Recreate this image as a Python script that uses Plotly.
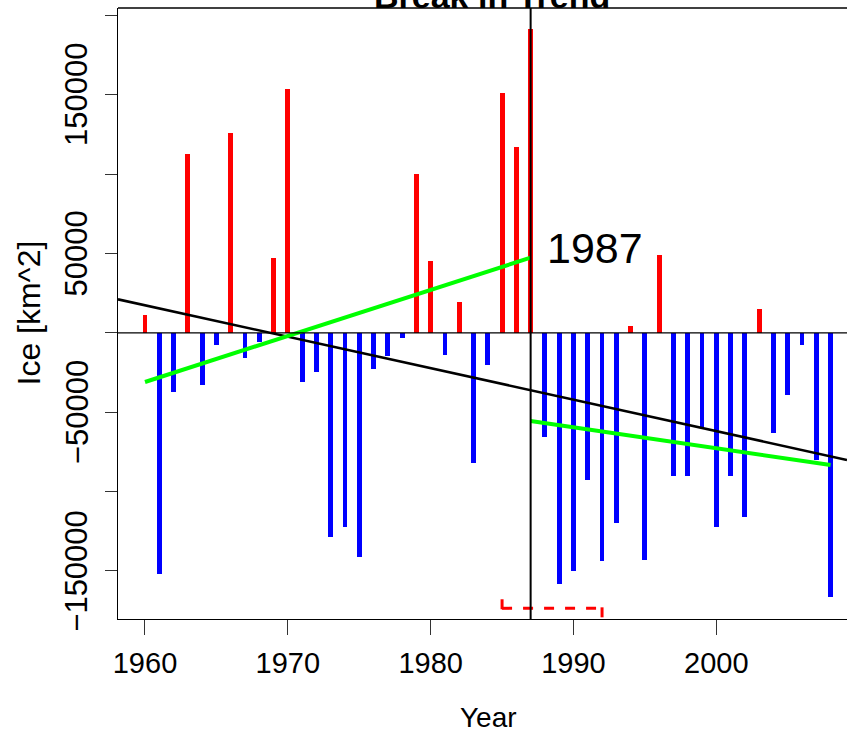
import plotly.graph_objects as go

# ---- data ----
years = list(range(1960, 2009))
ice = [
    11000, -152000, -37000, 113000, -33000, -7700, 126000, -16000, -5600, 47000,
    153500, -31000, -24700, -128700, -122600, -141500, -22800, -14400, -3400, 100000,
    45000, -13800, 19600, -82300, -20500, 151000, 117400, 191400, -65500, -158600,
    -150000, -92800, -143700, -120100, 4300, -143200, 49300, -90300, -90300, -60200,
    -122200, -90300, -115900, 15200, -63000, -39400, -7900, -80200, -166800,
]

break_year = 1987
ci_low, ci_high = 1985, 1992          # confidence interval of the break
ci_level = -173700                    # height at which the interval is drawn
ci_tick = 5700                        # half height of the end ticks

trend_intercept_1960 = 17400          # overall linear trend
trend_slope = -1985

seg1_x = [1960, 1987]
seg1_y = [-31000, 47400]
seg2_x = [1987, 2008]
seg2_y = [-55600, -83300]

x_ticks = [1960, 1970, 1980, 1990, 2000]
y_ticks = [-150000, -100000, -50000, 0, 50000, 100000, 150000, 200000]
y_labels = [-150000, -50000, 50000, 150000]

x_range = [1958.11, 2009.15]
y_range = [-180450, 204850]

FONT = "Liberation Sans, Arial, sans-serif"

fig = go.Figure()

pos_x = [y for y, v in zip(years, ice) if v >= 0]
pos_y = [v for v in ice if v >= 0]
neg_x = [y for y, v in zip(years, ice) if v < 0]
neg_y = [v for v in ice if v < 0]

fig.add_trace(go.Bar(x=pos_x, y=pos_y, width=0.34, marker=dict(color="#FF0000", line=dict(width=0)),
                     showlegend=False))
fig.add_trace(go.Bar(x=neg_x, y=neg_y, width=0.34, marker=dict(color="#0000FF", line=dict(width=0)),
                     showlegend=False))

# overall trend line
tx = x_range
ty = [trend_intercept_1960 + trend_slope * (x - 1960) for x in tx]
fig.add_trace(go.Scatter(x=tx, y=ty, mode="lines", line=dict(color="black", width=2.6),
                         showlegend=False))

# segmented fits
fig.add_trace(go.Scatter(x=seg1_x, y=seg1_y, mode="lines", line=dict(color="#00FF00", width=4),
                         showlegend=False))
fig.add_trace(go.Scatter(x=seg2_x, y=seg2_y, mode="lines", line=dict(color="#00FF00", width=4),
                         showlegend=False))

# confidence interval bracket
fig.add_trace(go.Scatter(
    x=[ci_low, ci_low, None, ci_low, ci_high, None, ci_high, ci_high],
    y=[ci_level + ci_tick, ci_level - ci_tick, None, ci_level, ci_level, None,
       ci_level - ci_tick, ci_level + ci_tick],
    mode="lines", line=dict(color="#FF0000", width=3, dash="10px,11px"),
    connectgaps=False, showlegend=False))

shapes = [
    dict(type="line", xref="paper", x0=0, x1=1, yref="y", y0=0, y1=0,
         line=dict(color="black", width=1.3)),
    dict(type="line", xref="x", x0=break_year, x1=break_year, yref="paper", y0=0, y1=1,
         line=dict(color="black", width=2)),
    dict(type="line", xref="paper", x0=0, x1=1, yref="paper", y0=1, y1=1,
         line=dict(color="black", width=1.3)),
]

annotations = []
for v in y_labels:
    txt = ("\u2212" if v < 0 else "") + str(abs(v))
    annotations.append(dict(x=0, xref="paper", xanchor="center", xshift=-41,
                            y=v, yref="y", yanchor="middle", text=txt, textangle=-90,
                            showarrow=False, font=dict(family=FONT, size=31, color="black")))
annotations.append(dict(x=0, xref="paper", xanchor="center", xshift=-90,
                        y=0.5, yref="paper", yanchor="middle", text="Ice [km^2]", textangle=-90,
                        showarrow=False, font=dict(family=FONT, size=32, color="black")))
annotations.append(dict(x=0.508, xref="paper", xanchor="center",
                        y=-0.162, yref="paper", yanchor="middle", text="Year",
                        showarrow=False, font=dict(family=FONT, size=28, color="black")))
annotations.append(dict(x=break_year + 1, xref="x", xanchor="left",
                        y=53300, yref="y", yanchor="middle", text=str(break_year),
                        showarrow=False, font=dict(family=FONT, size=43, color="black")))
annotations.append(dict(x=0.5137, xref="paper", xanchor="center",
                        y=1.0203, yref="paper", yanchor="middle", text="<b>Break in Trend</b>",
                        showarrow=False, font=dict(family=FONT, size=34, color="black")))

fig.update_layout(
    width=847, height=733,
    margin=dict(l=118, r=0, t=8, b=114, pad=0),
    paper_bgcolor="white", plot_bgcolor="white",
    barmode="overlay", bargap=0,
    shapes=shapes, annotations=annotations,
    showlegend=False,
    xaxis=dict(range=x_range, tickvals=x_ticks, ticktext=[str(t) for t in x_ticks],
               ticks="outside", ticklen=15, tickwidth=1, tickcolor="#333",
               showline=True, linecolor="black", linewidth=1.3,
               showgrid=False, zeroline=False, ticklabelstandoff=3,
               tickfont=dict(family=FONT, size=29, color="black")),
    yaxis=dict(range=y_range, tickvals=y_ticks, showticklabels=False,
               ticks="outside", ticklen=12, tickwidth=1, tickcolor="#333",
               showline=True, linecolor="black", linewidth=1.3,
               showgrid=False, zeroline=False),
)

fig.write_html("out.html", config={"displayModeBar": False},
               post_script="document.body.style.margin='0px';document.body.style.overflow='hidden';")
